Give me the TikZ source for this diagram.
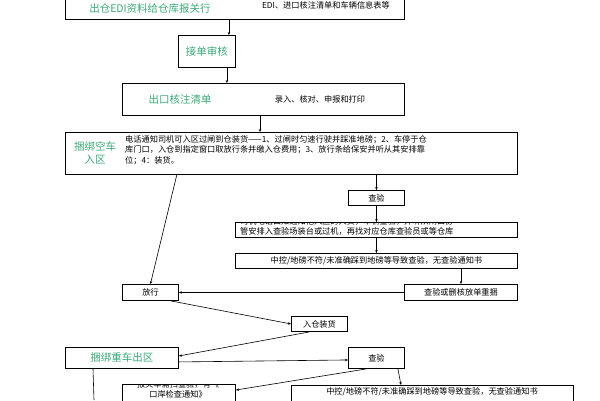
\documentclass[tikz,border=0pt]{standalone}
\usepackage{fontspec}
\setmainfont{Noto Sans CJK SC}
\usetikzlibrary{arrows.meta}
\definecolor{gr}{RGB}{60,170,120}
\begin{document}
\begin{tikzpicture}[x=1pt,y=-1pt,
 bx/.style={draw,line width=0.9pt,fill=white},
 g/.style={text=gr,font=\fontsize{10.5}{12.5}\selectfont,inner sep=0},
 t/.style={font=\fontsize{8.2}{10.5}\selectfont,inner sep=0},
 ar/.style={-{Stealth[length=3pt,width=2.5pt]},line width=0.6pt}]
\useasboundingbox (0,0) rectangle (600,400);
\fill[white] (0,0) rectangle (600,400);
% boxes
\node[bx,minimum width=339,minimum height=30,anchor=north west] (b1) at (65,-11) {};
\node[g] (b1t) at (150,9) {出仓EDI资料给仓库报关行};
\node[t] (b1s) at (326,5) {EDI、进口核注清单和车辆信息表等};
\node[bx,minimum width=57,minimum height=32,anchor=north west] (b2) at (178,35) {};
\node[g] at (b2) {接单审核};
\node[bx,minimum width=282,minimum height=32,anchor=north west] (b3) at (122,83) {};
\node[g] (b3t) at (180,99) {出口核注清单};
\node[t] (b3s) at (320,99) {录入、核对、申报和打印};
\node[bx,minimum width=452,minimum height=42,anchor=north west] (b4) at (65,132) {};
\node[g,align=center] (b4t) at (95,153) {捆绑空车\\入区};
\node[t,align=left,anchor=north west] (b4s) at (125,135) {电话通知司机可入区过闸到仓装货——1、过闸时匀速行驶并踩准地磅；2、车停于仓\\库门口，入仓到指定窗口取放行条并缴入仓费用；3、放行条给保安并听从其安排靠\\位；4：装货。};
\node[bx,minimum width=56,minimum height=15,anchor=north west] (c1) at (348,190) {};
\node[t] at (c1) {查验};
\node[bx,minimum width=282,minimum height=15,anchor=north west] (c2) at (235,222) {};
\begin{scope}
\clip (235,222) rectangle (517,237);
\node[t,align=left,anchor=north west] at (240,217) {司机电话口知通知他入区的人员，车辆查验，并听从闸口协\\管安排入查验场装台或过机，再找对应仓库查验员或等仓库};
\end{scope}
\node[bx,minimum width=282,minimum height=15,anchor=north west] (c3) at (235,253) {};
\node[t] at (c3) {中控/地磅不符/未准确踩到地磅等导致查验，无查验通知书};
\node[bx,minimum width=113,minimum height=16,anchor=north west] (c4) at (404,284) {};
\node[t] at (c4) {查验或删核放单重捆};
\node[bx,minimum width=56,minimum height=16,anchor=north west] (fx) at (122,284) {};
\node[t] at (fx) {放行};
\node[bx,minimum width=56,minimum height=15,anchor=north west] (rc) at (291,316) {};
\node[t] at (rc) {入仓装货};
\node[bx,minimum width=113,minimum height=21,anchor=north west] (zc) at (65,347) {};
\node[g] at (zc) {捆绑重车出区};
\node[bx,minimum width=56,minimum height=21,anchor=north west] (c5) at (348,347) {};
\node[t] at (c5) {查验};
\node[bx,minimum width=113,minimum height=25,anchor=north west] (d1) at (122,384) {};
\begin{scope}
\clip (122,384) rectangle (235,410);
\node[t,align=center,anchor=north] at (178,380) {报关车需扫查验，有《\\口岸检查通知》};
\end{scope}
\node[bx,minimum width=282,minimum height=25,anchor=north west] (d2) at (291,385) {};
\node[t] at (432,392) {中控/地磅不符/未准确踩到地磅等导致查验，无查验通知书};
% connectors
\draw[ar] ([xshift=22pt]b2.north |- b1.south) -- ([xshift=22pt]b2.north);
\draw[ar] ([xshift=20pt]b2.south) -- ([xshift=20pt]b2.south |- b3.north);
\draw[ar] (260,115) coordinate (q2) -- (q2 |- b4.north);
\draw[ar] (177,174) coordinate (q3) -- (fx.north);
\draw[ar] (c1.north |- b4.south) -- (c1.north);
\draw[ar] (c1.south) -- (c1.south |- c2.north);
\draw[ar] (c1.south |- c2.south) -- (c1.south |- c3.north);
\draw[ar] (c4.north |- c3.south) -- (c4.north);
\draw[ar] (c4.west) -- (fx.east);
\draw[ar] ([xshift=-8pt]fx.south east) -- (rc.west);
\draw[ar] ([xshift=-10pt]rc.south) -- ([yshift=2pt]zc.east);
\draw[ar] ([yshift=-4pt]zc.east) -- ([yshift=-2pt]c5.west);
\draw[ar] ([xshift=-10pt]c5.south) -- ([yshift=-6pt]d1.north east);
\draw[ar] ([xshift=-7pt]c5.south east) -- ([xshift=110pt]d2.north west);
\draw[line width=0.6pt] ([xshift=28pt]zc.south west) -- (94,400);
\end{tikzpicture}
\end{document}
